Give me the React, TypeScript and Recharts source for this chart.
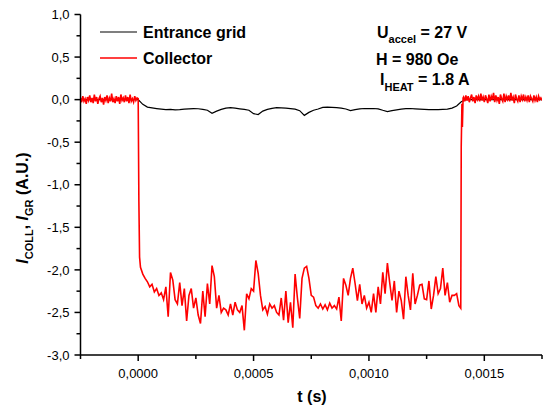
import { Line, LineChart, XAxis, YAxis } from "recharts";

// axis ticks (minor + major)
const xTicks = [-0.00025, 0, 0.00025, 0.0005, 0.00075, 0.001, 0.00125, 0.0015, 0.00175];
const yTicks = [-3, -2.75, -2.5, -2.25, -2, -1.75, -1.5, -1.25, -1, -0.75, -0.5, -0.25, 0, 0.25, 0.5, 0.75, 1];

// collector, before the pulse (t from -0.00025, every 5 µs)
const PRE_START = -0.00025;
const PRE_STEP = 0.000005;
const collectorPre = [
  0.02, -0.03, 0.04, -0.02, 0.01, -0.05, 0.03, -0.01, 0.05, -0.03,
  0.02, -0.04, 0.06, -0.02, 0.03, -0.05, 0.01, 0.04, -0.03, 0.02,
  -0.06, 0.03, -0.01, 0.05, -0.04, 0.02, -0.02, 0.07, -0.03, 0.01,
  -0.04, 0.04, -0.02, 0.03, -0.05, 0.06, -0.01, 0.02, -0.03, 0.05,
  -0.02, 0.03, -0.04, 0.06, -0.02, 0.01, -0.03, 0.04, -0.01, 0.02,
];

// falling edge at t = 0
const edgeTimes = [0, 0.000003, 0.000006];
const edgeValues = [0.01, -1.2, -1.85];

// collector during the pulse (t from 0.00001, every 10 µs)
const MAIN_START = 0.00001;
const MAIN_STEP = 0.00001;
const collectorMain = [
  -1.97, -2.05, -2.1, -2.14, -2.2, -2.17, -2.26, -2.22, -2.3, -2.27,
  -2.35, -2.2, -2.55, -2.03, -2.12, -2.35, -2.4, -2.15, -2.42, -2.22,
  -2.6, -2.3, -2.22, -2.45, -2.33, -2.53, -2.63, -2.25, -2.55, -2.16,
  -2.4, -1.95, -2.08, -2.45, -2.3, -2.5, -2.45, -2.47, -2.53, -2.4,
  -2.53, -2.38, -2.47, -2.5, -2.42, -2.71, -2.28, -2.34, -2.22, -2.25,
  -1.89, -2.04, -2.3, -2.47, -2.43, -2.52, -2.4, -2.45, -2.42, -2.5,
  -2.53, -2.33, -2.59, -2.25, -2.62, -2.38, -2.68, -2.05, -2.33, -2.57,
  -2.1, -1.98, -1.96, -2.1, -2.3, -2.32, -2.42, -2.45, -2.4, -2.46,
  -2.41, -2.47, -2.39, -2.45, -2.42, -2.46, -2.32, -2.6, -2.1, -2.18,
  -2.3, -2.1, -1.98, -2.16, -2.36, -2.17, -2.4, -2.3, -2.45, -2.38,
  -2.5, -2.28, -2.5, -2.2, -2.4, -2.03, -2.28, -1.92, -2.15, -2.36,
  -2.13, -2.5, -2.25, -2.36, -2.58, -2.08, -2.3, -2.47, -2.04, -2.4,
  -2.3, -2.18, -2.17, -2.34, -2.35, -2.13, -2.46, -2.3, -2.08, -2.28,
  -2.22, -1.98, -2.3, -2.15, -2.38, -2.3, -2.3, -2.28, -2.42,
];

// rising edge near t = 0.0014
const riseTimes = [0.001398, 0.0014, 0.001403, 0.001405, 0.001408];
const riseValues = [-2.45, -0.55, -0.05, -0.32, 0.02];

// collector after the pulse (t from 0.00141, every 5 µs)
const POST_START = 0.00141;
const POST_STEP = 0.000005;
const collectorPost = [
  0.03, -0.02, 0.05, -0.01, 0.04, -0.03, 0.02, 0.06, -0.02, 0.03,
  -0.04, 0.05, 0.0, 0.04, -0.02, 0.07, -0.01, 0.03, -0.03, 0.05,
  0.01, -0.04, 0.06, -0.02, 0.04, 0.0, 0.08, -0.03, 0.05, -0.01,
  0.03, -0.05, 0.06, 0.01, -0.02, 0.07, -0.03, 0.04, 0.0, 0.05,
  -0.02, 0.08, -0.01, 0.03, -0.04, 0.06, 0.01, -0.02, 0.05, -0.03,
  0.04, 0.0, 0.06, -0.02, 0.03, -0.01, 0.05, -0.03, 0.04, 0.01,
  -0.02, 0.05, -0.01, 0.03, -0.03, 0.04, 0.0, 0.02, -0.01,
];

// entrance grid (t from 0, every 20 µs), flat at 0 outside
const GRID_STEP = 0.00002;
const gridValues = [
  0.0, -0.055, -0.088, -0.097, -0.105, -0.112, -0.118, -0.115, -0.12, -0.117,
  -0.112, -0.108, -0.105, -0.107, -0.115, -0.125, -0.16, -0.135, -0.115, -0.1,
  -0.095, -0.1, -0.108, -0.115, -0.125, -0.165, -0.175, -0.135, -0.115, -0.102,
  -0.095, -0.096, -0.1, -0.105, -0.112, -0.13, -0.185, -0.15, -0.125, -0.11,
  -0.092, -0.088, -0.09, -0.094, -0.1, -0.11, -0.128, -0.118, -0.108, -0.104,
  -0.106, -0.104, -0.108, -0.125, -0.14, -0.13, -0.12, -0.112, -0.106, -0.104,
  -0.108, -0.112, -0.115, -0.118, -0.116, -0.118, -0.115, -0.112, -0.1, -0.075,
  -0.025, 0.0,
];

const collectorData = [
  ...collectorPre.map((v, i) => ({ t: PRE_START + i * PRE_STEP, v })),
  ...edgeTimes.map((t, i) => ({ t, v: edgeValues[i] })),
  ...collectorMain.map((v, i) => ({ t: MAIN_START + i * MAIN_STEP, v })),
  ...riseTimes.map((t, i) => ({ t, v: riseValues[i] })),
  ...collectorPost.map((v, i) => ({ t: POST_START + i * POST_STEP, v })),
];

const gridData = [
  { t: -0.00025, v: 0 },
  ...gridValues.map((v, i) => ({ t: i * GRID_STEP, v })),
  { t: 0.00175, v: 0 },
];

const FONT = "'Liberation Sans', Arial, sans-serif";
const isMajor = (v: number, step: number) => Math.abs(v / step - Math.round(v / step)) < 1e-6;

const BottomTick = ({ x, y, payload }: any) => {
  const major = isMajor(payload.value, 0.0005);
  return (
    <g>
      <line x1={x} x2={x} y1={y} y2={y + (major ? 6 : 4)} stroke="#000" strokeWidth={1.5} />
      {major && (
        <text x={x} y={y + 22.5} textAnchor="middle" fontSize={13} fontFamily={FONT} fill="#000">
          {payload.value.toFixed(4).replace(".", ",")}
        </text>
      )}
    </g>
  );
};

const TopTick = ({ x, y, payload }: any) => {
  const major = isMajor(payload.value, 0.0005);
  return <line x1={x} x2={x} y1={y} y2={y - (major ? 6 : 4)} stroke="#000" strokeWidth={1.5} />;
};

const LeftTick = ({ x, y, payload }: any) => {
  const major = isMajor(payload.value, 0.5);
  return (
    <g>
      <line x1={x} x2={x - (major ? 6 : 4)} y1={y} y2={y} stroke="#000" strokeWidth={1.5} />
      {major && (
        <text x={x - 11} y={y + 4.7} textAnchor="end" fontSize={13} fontFamily={FONT} fill="#000">
          {payload.value.toFixed(1).replace(".", ",")}
        </text>
      )}
    </g>
  );
};

const RightTick = ({ x, y, payload }: any) => {
  const major = isMajor(payload.value, 0.5);
  return <line x1={x} x2={x + (major ? 6 : 4)} y1={y} y2={y} stroke="#000" strokeWidth={1.5} />;
};

const axisLine = { stroke: "#000", strokeWidth: 1.5 };

export default function App() {
  return (
    <div style={{ position: "absolute", left: 0, top: 0, width: 548, height: 409, background: "#fff" }}>
      <LineChart width={548} height={409} margin={{ top: 14.5, right: 6, bottom: 0, left: 0 }}>
        <XAxis
          dataKey="t"
          type="number"
          domain={[-0.00025, 0.00175]}
          ticks={xTicks}
          interval={0}
          allowDataOverflow
          height={54}
          tickSize={0}
          tickMargin={0}
          tickLine={false}
          axisLine={axisLine}
          tick={BottomTick}
        />
        <XAxis
          xAxisId="top"
          orientation="top"
          dataKey="t"
          type="number"
          domain={[-0.00025, 0.00175]}
          ticks={xTicks}
          interval={0}
          allowDataOverflow
          height={0}
          tickSize={0}
          tickMargin={0}
          tickLine={false}
          axisLine={axisLine}
          tick={TopTick}
        />
        <YAxis
          type="number"
          domain={[-3, 1]}
          ticks={yTicks}
          interval={0}
          allowDataOverflow
          width={80.5}
          tickSize={0}
          tickMargin={0}
          tickLine={false}
          axisLine={axisLine}
          tick={LeftTick}
        />
        <YAxis
          yAxisId="right"
          orientation="right"
          type="number"
          domain={[-3, 1]}
          ticks={yTicks}
          interval={0}
          allowDataOverflow
          width={0}
          tickSize={0}
          tickMargin={0}
          tickLine={false}
          axisLine={axisLine}
          tick={RightTick}
        />
        <Line
          data={gridData}
          dataKey="v"
          type="linear"
          stroke="#000"
          strokeWidth={1.2}
          dot={false}
          isAnimationActive={false}
        />
        <Line
          data={collectorData}
          dataKey="v"
          type="linear"
          stroke="#ff0000"
          strokeWidth={1.6}
          dot={false}
          isAnimationActive={false}
        />
      </LineChart>
      <svg
        width={548}
        height={409}
        style={{ position: "absolute", left: 0, top: 0, pointerEvents: "none" }}
        fontFamily={FONT}
        fontWeight="bold"
        fill="#000"
      >
        {/* legend */}
        <line x1={100} x2={137} y1={32} y2={32} stroke="#000" strokeWidth={1.2} />
        <text x={143} y={37.5} fontSize={16}>Entrance grid</text>
        <line x1={100} x2={137} y1={58} y2={58} stroke="#ff0000" strokeWidth={1.6} />
        <text x={143} y={63.5} fontSize={16}>Collector</text>

        {/* conditions */}
        <text x={377} y={37.5} fontSize={16}>
          U<tspan fontSize={11} dy={5.5}>accel</tspan>
          <tspan dy={-5.5}> = 27 V</tspan>
        </text>
        <text x={376} y={64.5} fontSize={16}>H = 980 Oe</text>
        <text x={380} y={85} fontSize={16}>
          I<tspan fontSize={11} dy={5.5}>HEAT</tspan>
          <tspan dy={-5.5}> = 1.8 A</tspan>
        </text>

        {/* axis titles */}
        <text x={312} y={402} fontSize={16} textAnchor="middle">t (s)</text>
        <text x={28} y={208} fontSize={16} textAnchor="middle" transform="rotate(-90 28 208)">
          <tspan fontStyle="italic">I</tspan>
          <tspan fontSize={11} dy={5}>COLL</tspan>
          <tspan dy={-5}>, </tspan>
          <tspan fontStyle="italic">I</tspan>
          <tspan fontSize={11} dy={5}>GR</tspan>
          <tspan dy={-5}> (A.U.)</tspan>
        </text>
      </svg>
    </div>
  );
}
